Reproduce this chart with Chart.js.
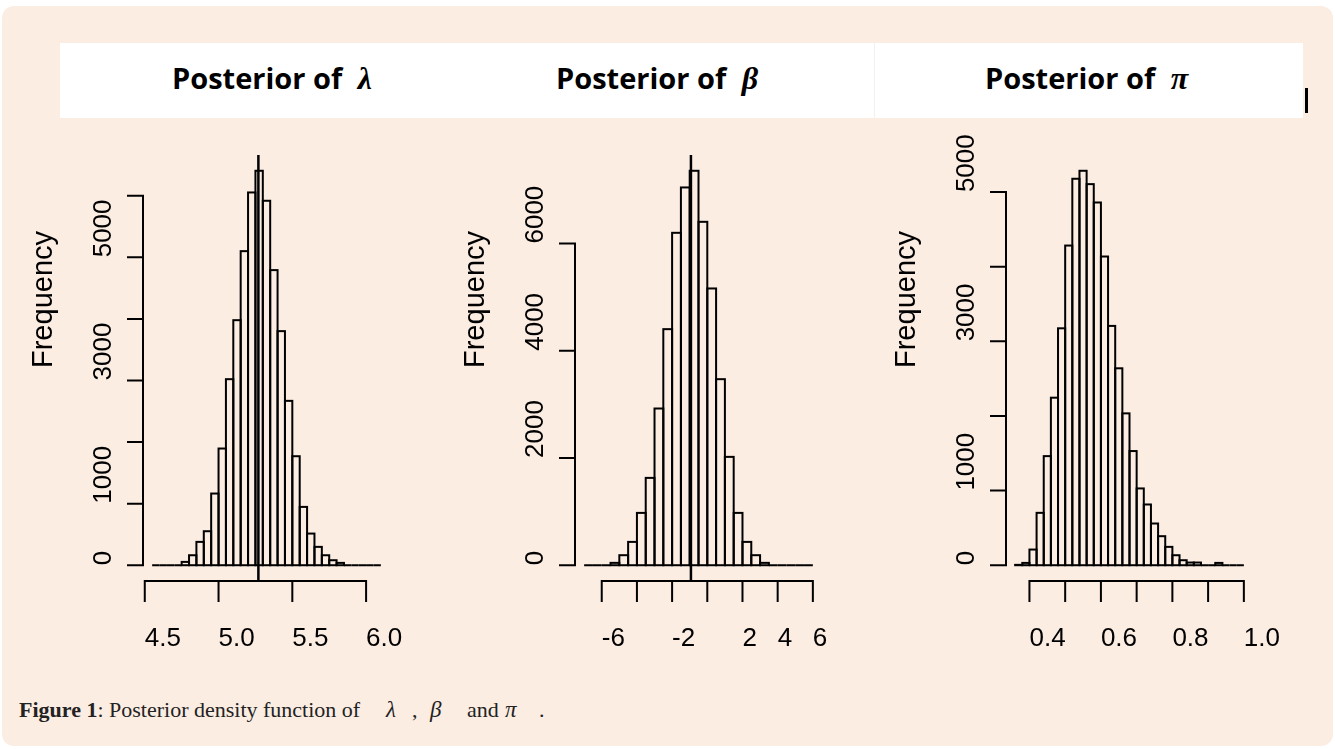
<!DOCTYPE html>
<html>
<head>
<meta charset="utf-8">
<script src="https://cdn.jsdelivr.net/npm/chart.js@4.4.0/dist/chart.umd.min.js"></script>
<style>
  body { margin: 0; background: #fff; width: 1335px; height: 749px; overflow: hidden; position: relative; }
  #box { position: absolute; left: 2px; top: 6px; width: 1331px; height: 740px; background: #fcede3; border-radius: 12px; }
  #band { position: absolute; left: 60px; top: 43px; width: 1243px; height: 75px; background: #fff; }
  #divider { position: absolute; left: 874px; top: 43px; width: 1px; height: 75px; background: #f3f0ee; }
  #mark { position: absolute; left: 1305px; top: 88px; width: 3px; height: 25px; background: #000; }
  .ttl { position: absolute; top: 63px; font-family: "Open Sans"; font-weight: 700; font-size: 29px; line-height: 29px; white-space: nowrap; color: #000; }
  .gk { font-family: "Liberation Serif"; font-style: italic; font-weight: 700; font-size: 32px; margin-left: 8px; }
  .cap { position: absolute; top: 698px; font-family: "Liberation Serif"; font-size: 22px; line-height: 24px; white-space: nowrap; color: #222; }
  .cg { font-style: italic; font-size: 23px; }
  canvas { position: absolute; top: 120px; }
</style>
</head>
<body>
<div id="box"></div>
<div id="band"></div>
<div id="divider"></div>
<div id="mark"></div>
<div class="ttl" style="left:172px">Posterior of <span class="gk">λ</span></div>
<div class="ttl" style="left:556px">Posterior of <span class="gk">β</span></div>
<div class="ttl" style="left:985px">Posterior of <span class="gk">π</span></div>

<canvas id="histLambda" width="430" height="560" style="left:0px"></canvas>
<canvas id="histBeta" width="430" height="560" style="left:432px"></canvas>
<canvas id="histPi" width="430" height="560" style="left:863px"></canvas>

<div class="cap" style="left:19px"><b>Figure 1</b>: Posterior density function of</div>
<div class="cap cg" style="left:386px">λ</div>
<div class="cap" style="left:412px">,</div>
<div class="cap cg" style="left:430px">β</div>
<div class="cap" style="left:467px">and</div>
<div class="cap cg" style="left:505px">π</div>
<div class="cap" style="left:539px">.</div>

<script>
// histogram of lambda: bins of 0.05 starting at 4.55
const lambdaBreakStart = 4.55;
const lambdaBinWidth = 0.05;
const lambdaCounts = [0, 0, 0, 0, 54, 162, 379, 552, 1164, 1895, 3021, 3979, 5100, 6053, 6405,
  5918, 4792, 3801, 2669, 1770, 947, 514, 298, 162, 81, 38, 0, 0, 0, 0, 0];
const lambdaXTicks = [4.5, 5.0, 5.5, 6.0];
const lambdaXLabels = ["4.5", "5.0", "5.5", "6.0"];
const lambdaYTicks = [0, 1000, 2000, 3000, 4000, 5000, 6000];
const lambdaYLabels = ["0", "1000", "", "3000", "", "5000", ""];
const lambdaMean = 5.27;

// histogram of beta: bins of 0.5 starting at -7
const betaBreakStart = -7;
const betaBinWidth = 0.5;
const betaCounts = [0, 0, 0, 44, 187, 435, 976, 1629, 2923, 4403, 6200, 7046, 7357,
  6405, 5162, 3470, 2021, 976, 435, 187, 44, 0, 0, 0, 0, 0];
const betaXTicks = [-6, -4, -2, 0, 2, 4, 6];
const betaXLabels = ["-6", "", "-2", "", "2", "4", "6"];
const betaYTicks = [0, 2000, 4000, 6000];
const betaYLabels = ["0", "2000", "4000", "6000"];
const betaMean = -0.93;

// histogram of pi: bins of 0.02 starting at 0.36
const piBreakStart = 0.36;
const piBinWidth = 0.02;
const piCounts = [5, 31, 210, 702, 1462, 2245, 3175, 4284, 5179, 5286, 5107, 4861, 4137, 3207,
  2639, 2035, 1530, 1029, 814, 559, 389, 246, 134, 67, 36, 36, 0, 0, 31, 0, 0, 0];
const piXTicks = [0.4, 0.5, 0.6, 0.7, 0.8, 0.9, 1.0];
const piXLabels = ["0.4", "", "0.6", "", "0.8", "", "1.0"];
const piYTicks = [0, 1000, 2000, 3000, 4000, 5000];
const piYLabels = ["0", "1000", "", "3000", "", "5000"];

// draws the histogram outlines and the detached R style axes
const rStyle = {
  id: "rStyle",
  afterDatasetsDraw(chart, args, opts) {
    const ctx = chart.ctx;
    const xs = chart.scales.x;
    const ys = chart.scales.y;
    const area = chart.chartArea;
    ctx.save();
    ctx.strokeStyle = "#000";
    ctx.fillStyle = "#000";
    ctx.lineWidth = 2;

    // bar outlines (no fill, like hist() in R)
    chart.getDatasetMeta(0).data.forEach((bar) => {
      ctx.strokeRect(bar.x - bar.width / 2, bar.y, bar.width, bar.base - bar.y);
    });

    // vertical line at the posterior mean
    if (opts.mean !== null) {
      const mx = xs.getPixelForValue(opts.mean);
      ctx.lineWidth = 2.5;
      ctx.beginPath();
      ctx.moveTo(mx, area.top);
      ctx.lineTo(mx, area.bottom);
      ctx.stroke();
      ctx.lineWidth = 2;
    }

    ctx.lineCap = "square";
    // x axis
    const y0 = area.bottom;
    ctx.beginPath();
    ctx.moveTo(xs.getPixelForValue(opts.xTicks[0]), y0);
    ctx.lineTo(xs.getPixelForValue(opts.xTicks[opts.xTicks.length - 1]), y0);
    opts.xTicks.forEach((t) => {
      const px = xs.getPixelForValue(t);
      ctx.moveTo(px, y0);
      ctx.lineTo(px, y0 + 20);
    });
    ctx.stroke();
    ctx.font = '26px "Liberation Sans"';
    ctx.textAlign = "left";
    ctx.textBaseline = "alphabetic";
    opts.xTicks.forEach((t, i) => {
      ctx.fillText(opts.xLabels[i], xs.getPixelForValue(t), y0 + 65);
    });

    // y axis
    const x0 = area.left;
    ctx.beginPath();
    ctx.moveTo(x0, ys.getPixelForValue(opts.yTicks[0]));
    ctx.lineTo(x0, ys.getPixelForValue(opts.yTicks[opts.yTicks.length - 1]));
    opts.yTicks.forEach((t) => {
      const py = ys.getPixelForValue(t);
      ctx.moveTo(x0 - 15, py);
      ctx.lineTo(x0, py);
    });
    ctx.stroke();
    opts.yTicks.forEach((t, i) => {
      ctx.save();
      ctx.translate(x0 - 32, ys.getPixelForValue(t));
      ctx.rotate(-Math.PI / 2);
      ctx.fillText(opts.yLabels[i], 0, 0);
      ctx.restore();
    });

    // axis title
    ctx.font = '29px "Liberation Sans"';
    ctx.translate(x0 - 91, (area.top + area.bottom) / 2);
    ctx.rotate(-Math.PI / 2);
    ctx.fillText("Frequency", 0, 0);
    ctx.restore();
  },
};

function makeHist(id, breakStart, binWidth, counts, xTicks, xLabels, yTicks, yLabels, mean) {
  const breakEnd = breakStart + counts.length * binWidth;
  const span = breakEnd - breakStart;
  const top = Math.max(...counts);
  const points = counts.map((c, i) => ({ x: breakStart + (i + 0.5) * binWidth, y: c }));

  return new Chart(document.getElementById(id), {
    type: "bar",
    data: {
      datasets: [
        {
          data: points,
          backgroundColor: "rgba(0,0,0,0)",
          borderWidth: 0,
          barPercentage: 1,
          categoryPercentage: 1,
        },
      ],
    },
    options: {
      responsive: false,
      animation: false,
      devicePixelRatio: 1,
      layout: { padding: { left: 143, right: 40, top: 35, bottom: 99 } },
      plugins: {
        legend: { display: false },
        tooltip: { enabled: false },
        rStyle: { xTicks, xLabels, yTicks, yLabels, mean },
      },
      scales: {
        x: {
          type: "linear",
          display: false,
          offset: false,
          min: breakStart - 0.04 * span,
          max: breakEnd + 0.04 * span,
        },
        y: {
          type: "linear",
          display: false,
          min: -0.04 * top,
          max: 1.04 * top,
        },
      },
    },
    plugins: [rStyle],
  });
}

makeHist("histLambda", lambdaBreakStart, lambdaBinWidth, lambdaCounts,
  lambdaXTicks, lambdaXLabels, lambdaYTicks, lambdaYLabels, lambdaMean);
makeHist("histBeta", betaBreakStart, betaBinWidth, betaCounts,
  betaXTicks, betaXLabels, betaYTicks, betaYLabels, betaMean);
makeHist("histPi", piBreakStart, piBinWidth, piCounts,
  piXTicks, piXLabels, piYTicks, piYLabels, null);
</script>
</body>
</html>
